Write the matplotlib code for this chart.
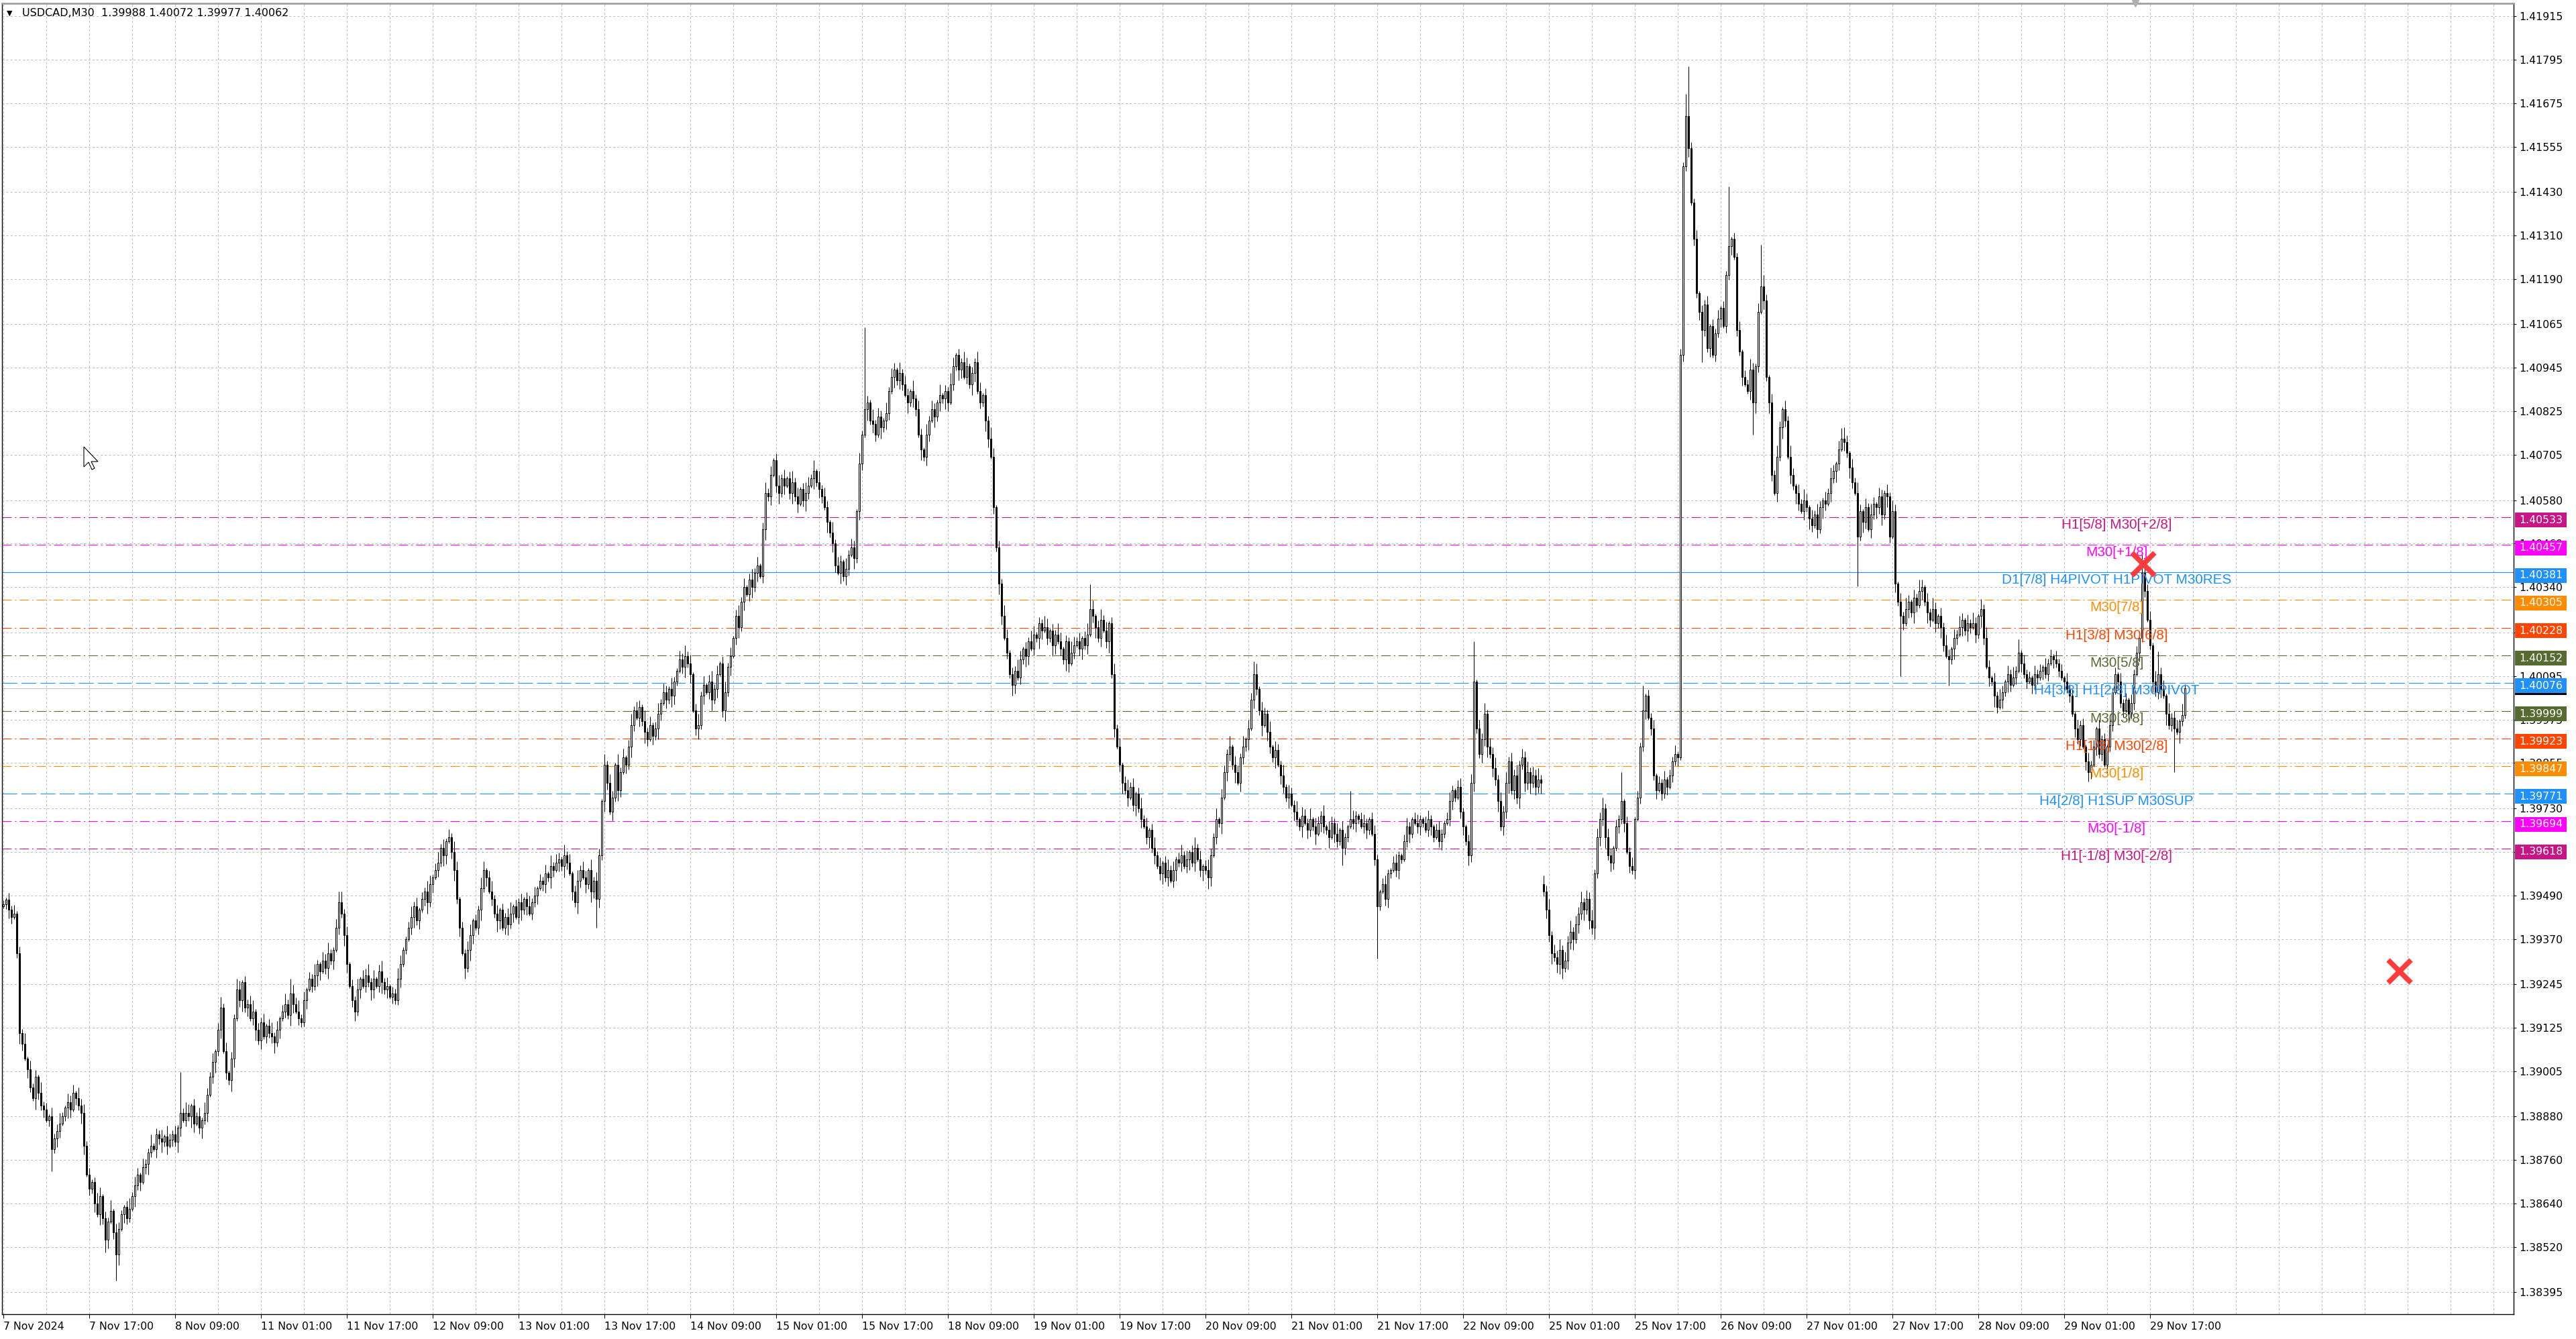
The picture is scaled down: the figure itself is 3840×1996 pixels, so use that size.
import numpy as np
import matplotlib.pyplot as plt
from matplotlib.patches import Rectangle, Polygon

plt.rcParams['lines.scale_dashes'] = False
plt.rcParams['font.family'] = ['DejaVu Sans']

# USDCAD M30 closes, in points above 1.38000, one per bar from 7 Nov 2024 01:00
base = 1.38
closes = [
    1465, 1478, 1450, 1430, 1440, 1330, 1110, 1080, 1040, 1010, 960, 930, 990, 945, 910, 900,
    870, 880, 790, 820, 840, 860, 880, 905, 920, 900, 945, 930, 910, 890, 800, 720,
    680, 700, 640, 610, 660, 600, 540, 590, 620, 560, 500, 570, 610, 630, 600, 625,
    660, 690, 720, 700, 740, 750, 780, 800, 790, 830, 820, 810, 825, 800, 815, 830,
    810, 850, 890, 870, 890, 880, 910, 860, 880, 850, 870, 890, 940, 990, 1030, 1060,
    1120, 1180, 1060, 1000, 980, 1040, 1150, 1230, 1200, 1250, 1180, 1190, 1150, 1170, 1120, 1090,
    1140, 1100, 1130, 1110, 1100, 1085, 1120, 1150, 1170, 1190, 1160, 1220, 1190, 1170, 1150, 1140,
    1200, 1230, 1260, 1240, 1270, 1300, 1280, 1310, 1290, 1330, 1310, 1340, 1400, 1470, 1440, 1380,
    1300, 1240, 1200, 1170, 1230, 1260, 1240, 1270, 1250, 1230, 1260, 1240, 1280, 1250, 1230, 1240,
    1210, 1220, 1200, 1260, 1300, 1340, 1370, 1400, 1430, 1460, 1420, 1450, 1480, 1500, 1470, 1520,
    1540, 1560, 1580, 1620, 1600, 1640, 1650, 1610, 1560, 1480, 1400, 1330, 1290, 1340, 1380, 1420,
    1400, 1450, 1510, 1560, 1540, 1500, 1480, 1440, 1420, 1450, 1400, 1430, 1410, 1440, 1460, 1430,
    1470, 1450, 1480, 1460, 1440, 1470, 1490, 1510, 1530, 1520, 1550, 1540, 1570, 1560, 1580, 1590,
    1570, 1600, 1580, 1550, 1500, 1470, 1530, 1560, 1540, 1520, 1560, 1500, 1530, 1480, 1600, 1750,
    1850, 1800, 1720, 1760, 1850, 1780, 1830, 1870, 1850, 1900, 1960, 2000, 1980, 2010, 1970, 1940,
    1920, 1960, 1930, 1950, 1990, 2020, 2050, 2030, 2060, 2040, 2080, 2110, 2140, 2120, 2150, 2130,
    2100, 2000, 1950, 1960, 2040, 2070, 2050, 2080, 2030, 2060, 2100, 2130, 2000, 2050, 2120, 2150,
    2200, 2260, 2230, 2300, 2340, 2320, 2360, 2340, 2380, 2400, 2370, 2500, 2600, 2590, 2650, 2690,
    2620, 2600, 2640, 2620, 2640, 2600, 2630, 2590, 2570, 2610, 2580, 2600, 2620, 2640, 2660, 2630,
    2610, 2590, 2560, 2520, 2490, 2460, 2400, 2380, 2410, 2370, 2390, 2430, 2450, 2420, 2550, 2680,
    2760, 2830, 2850, 2800, 2790, 2760, 2810, 2780, 2800, 2820, 2880, 2920, 2940, 2910, 2930, 2900,
    2870, 2850, 2880, 2860, 2830, 2760, 2720, 2700, 2760, 2800, 2830, 2810, 2850, 2870, 2860, 2880,
    2850, 2900, 2950, 2980, 2940, 2960, 2920, 2950, 2900, 2930, 2960, 2880, 2850, 2870, 2800, 2750,
    2700, 2560, 2450, 2350, 2260, 2200, 2160, 2100, 2070, 2110, 2090, 2140, 2170, 2150, 2190, 2170,
    2210, 2200, 2240, 2220, 2230, 2200, 2220, 2180, 2210, 2190, 2170, 2140, 2190, 2130, 2160, 2180,
    2190, 2170, 2200, 2180, 2210, 2280, 2260, 2230, 2200, 2250, 2220, 2190, 2240, 2100, 1950, 1900,
    1850, 1800, 1780, 1760, 1790, 1740, 1770, 1730, 1700, 1680, 1650, 1670, 1620, 1600, 1570, 1550,
    1580, 1540, 1560, 1530, 1560, 1590, 1580, 1600, 1570, 1590, 1610, 1580, 1620, 1590, 1560, 1570,
    1560, 1540, 1600, 1650, 1700, 1690, 1760, 1830, 1880, 1900, 1850, 1830, 1800, 1870, 1900, 1920,
    1950, 2030, 2100, 2060, 2000, 1960, 1990, 1940, 1900, 1870, 1890, 1850, 1820, 1790, 1760, 1770,
    1740, 1720, 1700, 1680, 1710, 1690, 1670, 1700, 1680, 1660, 1690, 1710, 1680, 1670, 1650, 1690,
    1660, 1640, 1670, 1620, 1650, 1680, 1700, 1690, 1710, 1700, 1680, 1690, 1670, 1700, 1660, 1590,
    1460, 1500, 1520, 1480, 1550, 1560, 1580, 1560, 1600, 1590, 1640, 1680, 1660, 1700, 1690, 1680,
    1700, 1690, 1670, 1700, 1680, 1650, 1670, 1640, 1660, 1690, 1700, 1750, 1780, 1760, 1790, 1720,
    1680, 1640, 1600, 1800, 2080, 1950, 1880, 1920, 1990, 1900, 1880, 1840, 1810, 1750, 1680, 1720,
    1800, 1860, 1780, 1820, 1760, 1850, 1870, 1800, 1830, 1800, 1820, 1790, 1810, 1800, 1500, 1450,
    1380, 1330, 1320, 1300, 1340, 1290, 1310, 1360, 1390, 1370, 1410, 1440, 1470, 1450, 1480, 1420,
    1400, 1550, 1650, 1700, 1730, 1650, 1600, 1580, 1620, 1680, 1700, 1750, 1690, 1610, 1570, 1560,
    1700, 1760, 1900, 2000, 2040, 1980, 1950, 1820, 1780, 1800, 1770, 1810, 1790, 1820, 1860, 1880,
    1870, 2980, 3500, 3640, 3550, 3400, 3300, 3150, 3100, 3050, 3120, 3000, 3060, 2980, 3040, 3080,
    3110, 3060, 3200, 3280, 3300, 3250, 3050, 2990, 2920, 2900, 2880, 2940, 2850, 2950, 3100, 3170,
    3130, 2920, 2850, 2650, 2600, 2700, 2780, 2830, 2800, 2700, 2650, 2620, 2600, 2570, 2550, 2580,
    2560, 2530, 2510, 2540, 2500, 2560, 2580, 2570, 2600, 2640, 2660, 2680, 2720, 2750, 2740, 2710,
    2670, 2630, 2600, 2480, 2550, 2520, 2560, 2500, 2540, 2570, 2560, 2590, 2540, 2600, 2590, 2480,
    2550, 2350, 2300, 2260, 2240, 2280, 2300, 2270, 2310, 2290, 2330, 2340, 2300, 2270, 2250, 2280,
    2240, 2260, 2230, 2180, 2150, 2140, 2170, 2200, 2210, 2230, 2250, 2220, 2240, 2230, 2240, 2210,
    2260, 2280, 2200, 2120, 2090, 2080, 2040, 2010, 2030, 2050, 2080, 2100, 2070, 2090, 2110, 2160,
    2130, 2100, 2080, 2090, 2070, 2100, 2090, 2110, 2120, 2100, 2130, 2150, 2140, 2130, 2110, 2090,
    2080, 2060, 2040, 1990, 1950, 1920, 1960, 1900, 1860, 1830, 1850, 1900, 1950, 1880, 1920, 1850,
    1900, 1960, 2050, 2100, 2080, 2020, 2000, 2030, 1990, 2020, 2100, 2160, 2200, 2380, 2330, 2250,
    2180, 2080, 2050, 2100, 2060, 2040, 1990, 1960, 1980, 1950, 1940, 1970, 1988, 2062,
]
open_fix = {0: 1460, 574: 1520}

# wick lengths, one digit per bar, in steps of 6 points
up_wick = (
    "21324132514231523142352143215342312541325143213524"
    "31422513241532413254132415324135241325413245132413"
    "52413521435241325214352143524132514352413524132541"
    "13524132541352413254132451325413524132451324135241"
    "32415243152413524315243152431524135243152413524315"
    "21435241352413524135241352413524135241352413524135"
    "42315243152431524315243152431524315243152431524315"
    "13254132541325413254132541325413254132541325413254"
    "24135241352413524135241352413524135241352413524135"
    "32514325143251432514325143251432514325143251432514"
    "21342134213421342134213421342134213421342134213421"
    "43524352435243524352435243524352435243524352435243"
    "13241324132413241324132413241324132413241324132413"
    "25314253142531425314253142531425314253142531425314"
    "31425314253142531425314253142531425314253142531425"
    "23142314231423142314231423142314231423142314231423"
    "41523415234152341523415234152341523415234152341523"
)
dn_wick = (
    "12431253142153241352431254132541324153241325143215"
    "24135214352413254132541352413524132541352413524132"
    "35241325413524132541352413254135241325413524135241"
    "21352413524132541352413254135241325413524135241324"
    "13425314253142531425314253142531425314253142531425"
    "42135241352413524135241352413524135241352413524135"
    "31524315243152431524315243152431524315243152431524"
    "25413254132541325413254132541325413254132541325413"
    "13524135241352413524135241352413524135241352413524"
    "41325143251432514325143251432514325143251432514325"
    "32134213421342134213421342134213421342134213421342"
    "24352435243524352435243524352435243524352435243524"
    "31324132413241324132413241324132413241324132413241"
    "14253142531425314253142531425314253142531425314253"
    "52531425314253142531425314253142531425314253142531"
    "31423142314231423142314231423142314231423142314231"
    "25234152341523415234152341523415234152341523415234"
)
high_fix = {26: 968, 66: 1003, 107: 1260, 125: 1500, 166: 1672, 302: 2690, 321: 3056,
            405: 2348, 466: 2136, 502: 1778, 548: 2190, 603: 1829, 611: 2069, 627: 3700,
            628: 3776, 643: 3446, 655: 3284, 685: 2779, 715: 2360, 737: 2308, 751: 2197,
            797: 2430, 803: 2163, 813: 2072}
low_fix = {18: 729, 38: 505, 42: 428, 111: 1127, 131: 1144, 146: 1190, 172: 1260, 221: 1400,
           449: 1507, 499: 1573, 512: 1316, 546: 1573, 580: 1273, 633: 2960, 652: 2760,
           691: 2343, 707: 2095, 725: 2069, 743: 1992, 777: 1804, 809: 1830, 813: 1977}

# Murrey / pivot levels
levels = [1.40533, 1.40457, 1.40381, 1.40305, 1.40228, 1.40152, 1.40076,
          1.39999, 1.39923, 1.39847, 1.39771, 1.39694, 1.39618]
level_colors = ['#C71585', '#FF00FF', '#1E90FF', '#FF8C00', '#FF4500', '#556B2F', '#1E90FF',
                '#556B2F', '#FF4500', '#FF8C00', '#1E90FF', '#FF00FF', '#C71585']
level_kind = ['dashdot', 'dashdot', 'solid', 'dashdot', 'dashdot', 'dashdot', 'dashed',
              'dashdot', 'dashdot', 'dashdot', 'dashed', 'dashdot', 'dashdot']
level_texts = ['H1[5/8] M30[+2/8]', 'M30[+1/8]', 'D1[7/8] H4PIVOT H1PIVOT M30RES', 'M30[7/8]',
               'H1[3/8] M30[6/8]', 'M30[5/8]', 'H4[3/8] H1[2/8] M30PIVOT', 'M30[3/8]',
               'H1[1/8] M30[2/8]', 'M30[1/8]', 'H4[2/8] H1SUP M30SUP', 'M30[-1/8]',
               'H1[-1/8] M30[-2/8]']
level_text_bar = 787.5

ytick_vals = [1.41915, 1.41795, 1.41675, 1.41555, 1.41430, 1.41310, 1.41190, 1.41065,
              1.40945, 1.40825, 1.40705, 1.40580, 1.40460, 1.40340, 1.40215, 1.40095,
              1.39975, 1.39855, 1.39730, 1.39610, 1.39490, 1.39370, 1.39245, 1.39125,
              1.39005, 1.38880, 1.38760, 1.38640, 1.38520, 1.38395]
xtick_labels = ['7 Nov 2024', '7 Nov 17:00', '8 Nov 09:00', '11 Nov 01:00', '11 Nov 17:00',
                '12 Nov 09:00', '13 Nov 01:00', '13 Nov 17:00', '14 Nov 09:00', '15 Nov 01:00',
                '15 Nov 17:00', '18 Nov 09:00', '19 Nov 01:00', '19 Nov 17:00', '20 Nov 09:00',
                '21 Nov 01:00', '21 Nov 17:00', '22 Nov 09:00', '25 Nov 01:00', '25 Nov 17:00',
                '26 Nov 09:00', '27 Nov 01:00', '27 Nov 17:00', '28 Nov 09:00', '29 Nov 01:00',
                '29 Nov 17:00']
bid = 1.40062
marks_x = [797.5, 893]
marks_y = [1.40403, 1.39280]
shift_bar = 794.5
title = 'USDCAD,M30  1.39988 1.40072 1.39977 1.40062'

# ---- build OHLC ----
n = len(closes)
c = np.array(closes, dtype=float)
o = np.r_[c[0], c[:-1]]
for k, v in open_fix.items():
    o[k] = v
uw = np.array([int(d) for d in up_wick[:n]]) * 6
dw = np.array([int(d) for d in dn_wick[:n]]) * 6
h = np.maximum(o, c) + uw
l = np.minimum(o, c) - dw
for k, v in high_fix.items():
    h[k] = v
for k, v in low_fix.items():
    l[k] = v
o = base + o * 1e-5
c = base + c * 1e-5
h = base + h * 1e-5
l = base + l * 1e-5
x = np.arange(n)

W, H = 3840, 1996
fig = plt.figure(figsize=(W / 100, H / 100), dpi=100)
ax = fig.add_axes([3 / W, 37 / H, 3744 / W, 1954 / H])
ax.set_xlim(-0.5, 935.5)
ax.set_ylim(1.383348, 1.419502)
px = (1.419502 - 1.383348) / 1954  # price per pixel

# grid
for v in ytick_vals:
    ax.axhline(v, color='#C0C0C0', lw=0.75, ls=(0, (2.2, 2.2)), zorder=0.5)
for gx in range(0, 936, 16):
    ax.axvline(gx, color='#C0C0C0', lw=0.75, ls=(0, (2.2, 2.2)), zorder=0.5)

# level lines
styles = {'dashdot': (0, (10, 3.5, 1.5, 3.5)), 'dashed': (0, (16, 4.5)), 'solid': '-'}
for v, col, kind in zip(levels, level_colors, level_kind):
    ax.axhline(v, color=col, lw=0.8, ls=styles[kind], zorder=1)
ax.axhline(bid, color='#C0C0C0', lw=0.8, zorder=1)

# candles
ax.vlines(x, l, h, color='black', lw=0.75, zorder=3)
bull = c >= o
ax.bar(x[bull], (c - o)[bull], bottom=o[bull], width=0.5, color='white',
       edgecolor='black', linewidth=0.75, zorder=4)
ax.bar(x[~bull], (c - o)[~bull], bottom=o[~bull], width=0.5, color='black',
       edgecolor='black', linewidth=0.75, zorder=4)

# level captions
for v, col, t in zip(levels, level_colors, level_texts):
    ax.text(level_text_bar, v - 2 * px, t, color=col, ha='center', va='top',
            fontsize=14.9, family=['Liberation Sans', 'DejaVu Sans'], zorder=6)

# red crosses
ax.plot(marks_x, marks_y, 'x', ms=24, mew=5.5, color='#FF3B3B', zorder=8)

# axes styling
ax.yaxis.tick_right()
ax.set_yticks(ytick_vals, labels=['%.5f' % v for v in ytick_vals])
ax.set_xticks(range(0, 32 * len(xtick_labels), 32), labels=xtick_labels)
for lab in ax.get_xticklabels():
    lab.set_ha('left')
ax.tick_params(axis='y', direction='out', length=3, width=0.75, pad=3, labelsize=11.3,
               colors='black')
ax.tick_params(axis='x', direction='out', length=4, width=0.75, pad=4, labelsize=11.3,
               colors='black')
for s in ['left', 'right', 'bottom']:
    ax.spines[s].set_color('black')
    ax.spines[s].set_linewidth(1.0)
ax.spines['top'].set_color('#A0A0A0')
ax.spines['top'].set_linewidth(2)
ax.plot([shift_bar], [1.0], marker='v', ms=7, color='#B0B0B0', transform=ax.get_xaxis_transform(),
        clip_on=False, zorder=12)

# price boxes on the right axis (drawn a little under the level, as the terminal does)
ytr = ax.get_yaxis_transform()
bw = 77 / 3744
bh = 22 * px
dy = 4.5 * px
ax.add_patch(Rectangle((1.0005, bid - 10 * px), bw, 20 * px, transform=ytr, clip_on=False,
                       facecolor='black', edgecolor='none', zorder=9))
for v, col in zip(levels, level_colors):
    ax.add_patch(Rectangle((1.0005, v - bh / 2 - dy), bw, bh, transform=ytr, clip_on=False,
                           facecolor=col, edgecolor='none', zorder=10))
    ax.text(1.0022, v - dy, '%.5f' % v, transform=ytr, color='white', ha='left', va='center',
            fontsize=11.3, zorder=11, clip_on=False)

# header
fig.text(10 / W, 1 - 20 / H, '\u25BC', fontsize=8, va='center', ha='left')
fig.text(33 / W, 1 - 20 / H, title, fontsize=11.5, va='center', ha='left')

# mouse pointer
tip = np.array([125, 666])
shape = np.array([[0, 0], [0, 30], [7, 23], [12, 34], [16, 32], [11, 22], [21, 22]])
pts = (tip + shape) / np.array([W, H])
pts[:, 1] = 1 - pts[:, 1]
fig.patches.append(Polygon(pts, closed=True, transform=fig.transFigure, facecolor='white',
                           edgecolor='black', linewidth=0.8))

fig.savefig('out.png', dpi=100)
